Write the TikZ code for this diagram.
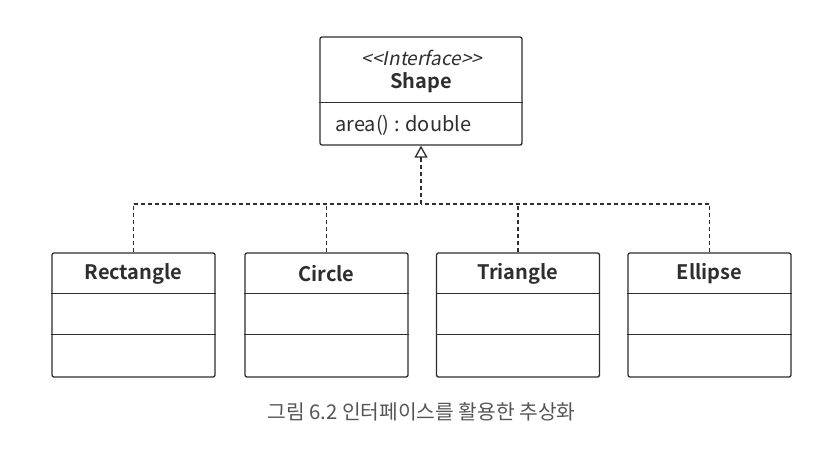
\documentclass[tikz,border=0pt]{standalone}
\usepackage{fontspec}
\setmainfont{Noto Sans CJK KR}[BoldFont={* Bold},ItalicFont={*},ItalicFeatures={FakeSlant=0.2},BoldItalicFont={* Bold},BoldItalicFeatures={FakeSlant=0.2}]
\newfontfamily\krfont{Noto Sans CJK KR}
\usetikzlibrary{arrows.meta,calc}
\definecolor{ink}{HTML}{2E2E2E}
\definecolor{capgray}{HTML}{555555}
\tikzset{
  umlbox/.style={draw=ink,line width=1.3pt,rounded corners=2pt,inner sep=0pt,fill=white},
  divider/.style={draw=ink,line width=1.3pt},
  dep/.style={draw=ink,line width=1.3pt,dash pattern=on 4pt off 3pt},
  title/.style={font=\fontsize{20}{22}\selectfont\bfseries,text=ink,inner sep=0pt},
  member/.style={font=\fontsize{20}{22}\selectfont,text=ink,inner sep=0pt},
  stereo/.style={font=\fontsize{19}{21}\selectfont\itshape,text=ink,inner sep=0pt},
}
\begin{document}
\begin{tikzpicture}[x=1pt,y=-1pt]
\useasboundingbox[fill=white] (0,0) rectangle (840,450);
% interface box
\node[umlbox,minimum width=202pt,minimum height=108pt] (shape) at (421,91) {};
\draw[divider] ($(shape.north west)+(0,66)$) -- ($(shape.north east)+(0,66)$);
\node[stereo] (stereoT) at (422,58) {<\kern0pt<Interface>\kern0pt>};
\node[title] (shapeT) at (421,83) {Shape};
\node[member,anchor=west] (areaT) at (335,125) {area() : double};
% class boxes
\foreach \n/\cx/\t in {rect/133.5/Rectangle, circ/326.5/Circle, tri/518/Triangle, ell/709.5/Ellipse}{
  \node[umlbox,minimum width=163pt,minimum height=124pt] (\n) at (\cx,315) {};
  \draw[divider] ($(\n.north west)+(0,41)$) -- ($(\n.north east)+(0,41)$);
  \draw[divider] ($(\n.north west)+(0,82)$) -- ($(\n.north east)+(0,82)$);
  \node[title] (\n T) at (\cx,274) {\t};
}
% connectors
\coordinate (j) at (421,204);
\coordinate (tipbase) at (421,158);
\draw[dep] (rect.north) |- (j);
\draw[dep] (ell.north) |- (j);
\draw[dep] (circ.north) -- (circ.north |- j);
\draw[dep] (tri.north) -- (tri.north |- j);
\draw[dep] (j) -- (tipbase);
\draw[draw=ink,line width=1.3pt,solid,line join=miter,-{Triangle[open,length=12pt,width=13pt,line width=1.3pt]}] (tipbase) -- (shape.south);
% caption
\node[font=\krfont\fontsize{20.3}{22}\selectfont,text=capgray,inner sep=0pt] (cap) at (421.5,412) {그림 6.2 인터페이스를 활용한 추상화};
\end{tikzpicture}
\end{document}
